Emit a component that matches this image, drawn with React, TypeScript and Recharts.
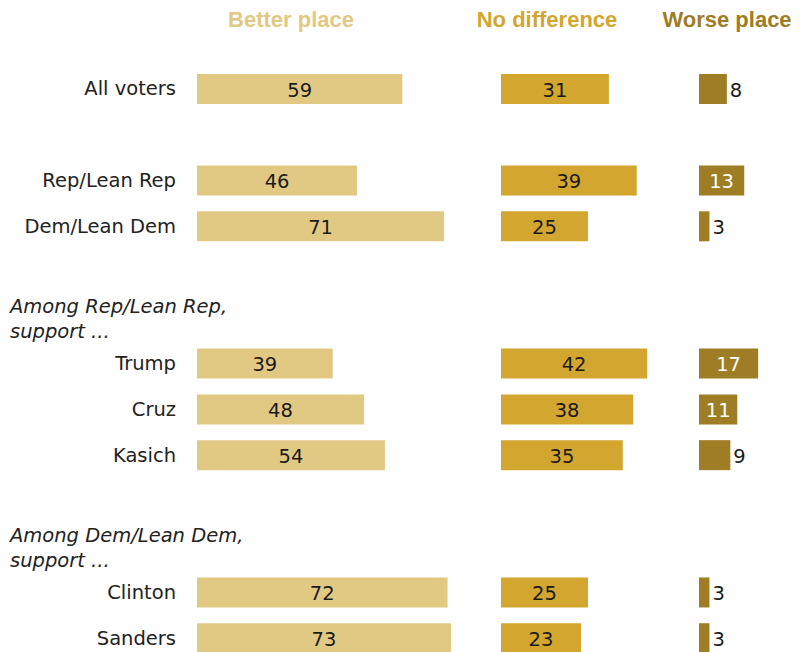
import { BarChart, Bar, XAxis, YAxis, LabelList } from "recharts"

const rowLabels = [
  "All voters",
  "",
  "Rep/Lean Rep",
  "Dem/Lean Dem",
  "",
  "Among Rep/Lean Rep,|support ...",
  "Trump",
  "Cruz",
  "Kasich",
  "",
  "Among Dem/Lean Dem,|support ...",
  "Clinton",
  "Sanders",
]
const betterPlace = [59, null, 46, 71, null, null, 39, 48, 54, null, null, 72, 73]
const noDifference = [31, null, 39, 25, null, null, 42, 38, 35, null, null, 25, 23]
const worsePlace = [8, null, 13, 3, null, null, 17, 11, 9, null, null, 3, 3]

const seriesNames = ["Better place", "No difference", "Worse place"]
const colors = ["#E2C983", "#D3A62F", "#9E7D24"]

const data = rowLabels.map((label, i) => ({
  id: `r${i}`,
  label,
  better: betterPlace[i],
  nodiff: noDifference[i],
  worse: worsePlace[i],
}))

const FONT = "'DejaVu Sans', sans-serif"
const FS = 19.5
const PX_PER_POINT = 3.48
const CHART_H = 700
const MARGIN = { top: 66, right: 0, bottom: 39, left: 0 }

const RowTick = (props: any) => {
  const { x, y, payload } = props
  const row = data.find((d) => d.id === payload.value)
  if (!row || !row.label) return null
  if (row.label.includes("|")) {
    const [a, b] = row.label.split("|")
    return (
      <g>
        <text x={10} y={y - 11} dominantBaseline="central" fontStyle="italic" fontSize={FS} fill="#222" fontFamily={FONT}>{a}</text>
        <text x={10} y={y + 14} dominantBaseline="central" fontStyle="italic" fontSize={FS} fill="#222" fontFamily={FONT}>{b}</text>
      </g>
    )
  }
  return (
    <text x={x} y={y} textAnchor="end" dominantBaseline="central" fontSize={FS} fill="#222" fontFamily={FONT}>
      {row.label}
    </text>
  )
}

const CenterLabel = (props: any) => {
  const { x, y, width, height, value } = props
  if (value == null) return null
  return (
    <text x={x + width / 2} y={y + height / 2 + 1} textAnchor="middle" dominantBaseline="central" fontSize={FS} fill="#1a1a1a" fontFamily={FONT}>
      {value}
    </text>
  )
}

const WorseLabel = (props: any) => {
  const { x, y, width, height, value } = props
  if (value == null) return null
  const inside = value >= 10
  return (
    <text
      x={inside ? x + width / 2 : x + width + 3}
      y={y + height / 2 + 1}
      textAnchor={inside ? "middle" : "start"}
      dominantBaseline="central"
      fontSize={FS}
      fill={inside ? "#fff" : "#1a1a1a"}
      fontFamily={FONT}
    >
      {value}
    </text>
  )
}

function Panel({ left, plotWidth, axisWidth, dataKey, color, label }: any) {
  return (
    <div style={{ position: "absolute", left, top: 0 }}>
      <BarChart
        width={axisWidth + plotWidth}
        height={CHART_H}
        data={data}
        layout="vertical"
        margin={MARGIN}
        barSize={30}
        style={{ overflow: "visible" }}
      >
        <XAxis type="number" hide domain={[0, plotWidth / PX_PER_POINT]} />
        <YAxis
          type="category"
          dataKey="id"
          width={axisWidth}
          hide={axisWidth === 0}
          axisLine={false}
          tickLine={false}
          tickSize={0}
          tickMargin={21}
          interval={0}
          tick={<RowTick />}
        />
        <Bar dataKey={dataKey} fill={color} isAnimationActive={false}>
          <LabelList dataKey={dataKey} content={label} />
        </Bar>
      </BarChart>
    </div>
  )
}

const headerStyle = (center: number, color: string): any => ({
  position: "absolute",
  left: center - 100,
  width: 200,
  top: 7,
  textAlign: "center",
  fontFamily: "'Liberation Sans', Arial, sans-serif",
  fontWeight: "bold",
  fontSize: 22,
  lineHeight: "26px",
  whiteSpace: "nowrap",
  color,
})

export default function App() {
  return (
    <div style={{ position: "absolute", left: 0, top: 0, width: 802, height: 652, overflow: "hidden", background: "#fff" }}>
      <div style={headerStyle(291, colors[0])}>{seriesNames[0]}</div>
      <div style={headerStyle(547, colors[1])}>{seriesNames[1]}</div>
      <div style={headerStyle(727, colors[2])}>{seriesNames[2]}</div>
      <Panel left={0} axisWidth={197} plotWidth={270} dataKey="better" color={colors[0]} label={CenterLabel} />
      <Panel left={501} axisWidth={0} plotWidth={180} dataKey="nodiff" color={colors[1]} label={CenterLabel} />
      <Panel left={699} axisWidth={0} plotWidth={103} dataKey="worse" color={colors[2]} label={WorseLabel} />
    </div>
  )
}
